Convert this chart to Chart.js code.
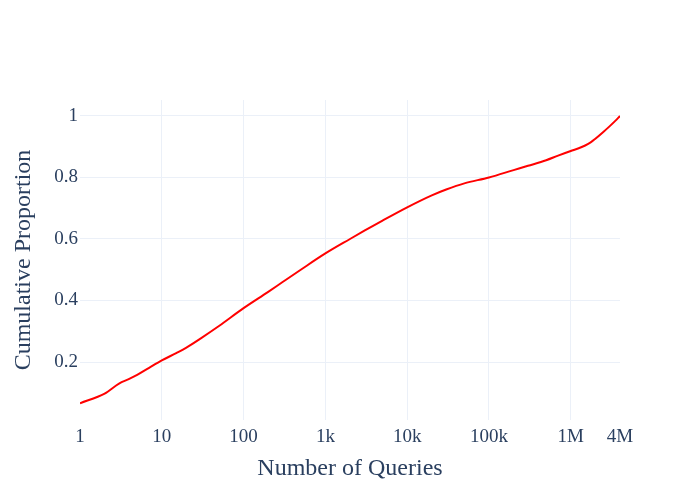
<!DOCTYPE html>
<html>
<head>
<meta charset="utf-8">
<script src="https://cdn.jsdelivr.net/npm/chart.js@4"></script>
<style>
  html, body { margin: 0; padding: 0; background: #fff; }
  #wrap { width: 700px; height: 500px; }
</style>
</head>
<body>
<div id="wrap"><canvas id="cdfChart" width="700" height="500"></canvas></div>
<script>
// jumlah query (sumbu x, log) dan proporsi kumulatif
const queryCounts = [1, 2, 3, 4, 5, 7, 10, 15, 20, 30, 50, 100, 200, 300, 500,
  1000, 2000, 3000, 5000, 10000, 20000, 30000, 50000, 100000, 200000, 300000,
  500000, 700000, 1000000, 1250000, 1500000, 1750000, 2000000, 2500000,
  3000000, 3500000, 4000000];
const cumulativeProp = [0.066, 0.097, 0.130, 0.145, 0.158, 0.181, 0.205, 0.229,
  0.247, 0.277, 0.317, 0.375, 0.428, 0.460, 0.500, 0.553, 0.600, 0.627, 0.660,
  0.703, 0.742, 0.761, 0.781, 0.800, 0.824, 0.838, 0.856, 0.871, 0.886, 0.895,
  0.904, 0.914, 0.926, 0.948, 0.967, 0.984, 1.0];

const xTickValues = [1, 10, 100, 1000, 10000, 100000, 1000000, 4000000];
const xTickLabels = ["1", "10", "100", "1k", "10k", "100k", "1M", "4M"];
const yTickValues = [0.2, 0.4, 0.6, 0.8, 1];

const fontFamily = "'Liberation Serif', 'Times New Roman', serif";
const textColor = "#2a3f5f";
const gridColor = "#ebf0f8";

window.onload = () => {
  const points = queryCounts.map((q, i) => ({ x: q, y: cumulativeProp[i] }));
  const ctx = document.getElementById("cdfChart").getContext("2d");

  new Chart(ctx, {
    type: "line",
    data: {
      datasets: [
        {
          data: points,
          borderColor: "#ff0000",
          borderWidth: 2,
          pointRadius: 0,
          cubicInterpolationMode: "monotone",
          fill: false,
        },
      ],
    },
    options: {
      responsive: false,
      animation: false,
      layout: { padding: { top: 100, right: 80, left: 0, bottom: 0 } },
      plugins: { legend: { display: false }, tooltip: { enabled: false } },
      scales: {
        x: {
          type: "logarithmic",
          min: 1,
          max: 4000000,
          afterBuildTicks: (scale) => {
            scale.ticks = xTickValues.map((v) => ({ value: v }));
          },
          afterFit: (scale) => { scale.height = 80; },
          border: { display: false },
          grid: {
            drawTicks: false,
            color: (c) =>
              c.tick && (c.tick.value === 1 || c.tick.value === 4000000)
                ? "rgba(0,0,0,0)"
                : gridColor,
            lineWidth: 1,
          },
          ticks: {
            autoSkip: false,
            maxRotation: 0,
            padding: 6,
            color: textColor,
            font: { family: fontFamily, size: 19 },
            callback: (v, i) => xTickLabels[i],
          },
          title: {
            display: true,
            text: "Number of Queries",
            color: textColor,
            font: { family: fontFamily, size: 24 },
            padding: { top: 0, bottom: 17 },
          },
        },
        y: {
          type: "linear",
          min: 0.0114,
          max: 1.052,
          afterBuildTicks: (scale) => {
            scale.ticks = yTickValues.map((v) => ({ value: v }));
          },
          afterFit: (scale) => { scale.width = 80; },
          border: { display: false },
          grid: { drawTicks: false, color: gridColor, lineWidth: 1 },
          ticks: {
            padding: 2,
            color: textColor,
            font: { family: fontFamily, size: 19 },
            callback: (v) => String(v),
          },
          title: {
            display: true,
            text: "Cumulative Proportion",
            color: textColor,
            font: { family: fontFamily, size: 24 },
            padding: { top: 9, bottom: 0 },
          },
        },
      },
    },
  });
};
</script>
</body>
</html>
